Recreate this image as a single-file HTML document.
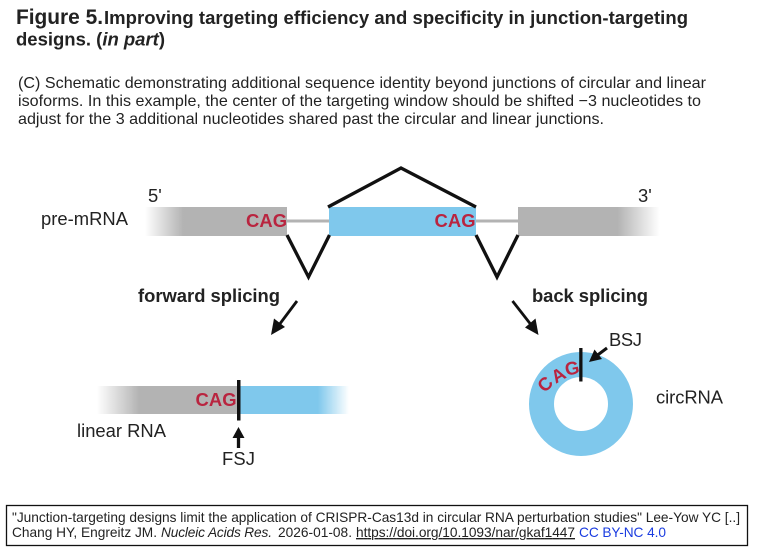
<!DOCTYPE html>
<html><head><meta charset="utf-8"><style>
html,body{margin:0;padding:0;background:#fff;width:761px;height:560px;overflow:hidden}
svg{display:block;filter:blur(.3px)}
text{font-family:"Liberation Sans",sans-serif;fill:#222}
.b{font-weight:700}
.c{font-weight:700;fill:#b9243f;font-size:18.4px}
.l{font-size:18.4px}
</style></head><body>
<svg width="761" height="560" viewBox="0 0 761 560" xmlns="http://www.w3.org/2000/svg">
<defs>
<linearGradient id="g1" x1="0" x2="1" y1="0" y2="0"><stop offset="0" stop-color="#b3b3b3" stop-opacity="0"/><stop offset=".27" stop-color="#b3b3b3"/><stop offset="1" stop-color="#b3b3b3"/></linearGradient>
<linearGradient id="g2" x1="0" x2="1" y1="0" y2="0"><stop offset="0" stop-color="#b3b3b3"/><stop offset=".7" stop-color="#b3b3b3"/><stop offset="1" stop-color="#b3b3b3" stop-opacity="0"/></linearGradient>
<linearGradient id="g3" x1="0" x2="1" y1="0" y2="0"><stop offset="0" stop-color="#b3b3b3" stop-opacity="0"/><stop offset=".3" stop-color="#b3b3b3"/><stop offset="1" stop-color="#b3b3b3"/></linearGradient>
<linearGradient id="g4" x1="0" x2="1" y1="0" y2="0"><stop offset="0" stop-color="#7fc8ec"/><stop offset=".72" stop-color="#7fc8ec"/><stop offset="1" stop-color="#7fc8ec" stop-opacity="0"/></linearGradient>
</defs>

<text class="b" x="16" y="24" font-size="20.9" textLength="87">Figure 5.</text>
<text class="b" x="104" y="24" font-size="18.5" textLength="584">Improving targeting efficiency and specificity in junction-targeting</text>
<text class="b" x="16" y="45.500" font-size="18.5" textLength="149">designs. (<tspan font-style="italic">in part</tspan>)</text>

<text x="18" y="88" font-size="16.1" textLength="688">(C) Schematic demonstrating additional sequence identity beyond junctions of circular and linear</text>
<text x="18" y="106" font-size="16.1" textLength="683">isoforms. In this example, the center of the targeting window should be shifted −3 nucleotides to</text>
<text x="18" y="124" font-size="16.1" textLength="586">adjust for the 3 additional nucleotides shared past the circular and linear junctions.</text>

<!-- pre-mRNA -->
<rect x="287" y="219.500" width="42" height="3" fill="#b3b3b3"/>
<rect x="476" y="219.500" width="42" height="3" fill="#b3b3b3"/>
<rect x="145" y="207" width="142" height="29" fill="url(#g1)"/>
<rect x="329" y="207" width="147" height="29" fill="#7fc8ec"/>
<rect x="518" y="207" width="142" height="29" fill="url(#g2)"/>
<g fill="none" stroke="#111" stroke-width="3.300">
<path d="M287 235L308.500 277L329.500 235"/>
<path d="M476 235L497 277L518 235"/>
<path d="M328 207L401 168L476 207"/>
</g>
<text class="l" x="41" y="225" textLength="87">pre-mRNA</text>
<text class="l" x="148" y="202">5'</text>
<text class="l" x="638" y="202">3'</text>
<text class="c" x="246" y="227" textLength="41">CAG</text>
<text class="c" x="434.500" y="227" textLength="41">CAG</text>
<text class="b" x="138" y="302" font-size="18.4" textLength="142">forward splicing</text>
<text class="b" x="532" y="302" font-size="18.4" textLength="116">back splicing</text>

<!-- arrows -->
<path d="M297 301L279 325" stroke="#111" stroke-width="2.800" fill="none"/>
<path d="M271 335L274 318.500L285 327Z" fill="#111"/>
<path d="M512.500 301L532 326" stroke="#111" stroke-width="2.800" fill="none"/>
<path d="M538.500 335L525 327.500L535.500 318.500Z" fill="#111"/>

<!-- linear RNA -->
<rect x="97" y="386" width="141" height="28" fill="url(#g3)"/>
<rect x="238" y="386" width="111" height="28" fill="url(#g4)"/>
<rect x="237" y="380" width="3.500" height="40.500" fill="#111"/>
<text class="c" x="195.500" y="406" textLength="41">CAG</text>
<text class="l" x="77" y="437" textLength="89">linear RNA</text>
<path d="M238.500 448V434" stroke="#111" stroke-width="3.300" fill="none"/>
<path d="M238.500 427L244.500 438H232.500Z" fill="#111"/>
<text class="l" x="222" y="465" textLength="33">FSJ</text>

<!-- circRNA -->
<circle cx="581" cy="404" r="39.500" fill="none" stroke="#7fc8ec" stroke-width="25"/>
<rect x="579.200" y="348" width="3.300" height="33.500" fill="#111"/>
<text class="c" transform="translate(549.600 388.600) rotate(-45)" text-anchor="middle">C</text>
<text class="c" transform="translate(561.500 380.600) rotate(-30)" text-anchor="middle">A</text>
<text class="c" transform="translate(573.400 374.400) rotate(-12)" text-anchor="middle">G</text>
<path d="M607 348L595 357" stroke="#111" stroke-width="3" fill="none"/>
<path d="M589 362L594.500 349.500L602 359Z" fill="#111"/>
<text class="l" x="609" y="346" textLength="33">BSJ</text>
<text class="l" x="656" y="403.500" textLength="67">circRNA</text>

<!-- citation -->
<rect x="6.500" y="505.500" width="741" height="40" fill="none" stroke="#111" stroke-width="1.300"/>
<text x="12" y="522" font-size="13.7" fill="#111" textLength="728">"Junction-targeting designs limit the application of CRISPR-Cas13d in circular RNA perturbation studies" Lee-Yow YC [..]</text>
<text x="12" y="537" font-size="13.7" textLength="145">Chang HY, Engreitz JM.</text>
<text x="161" y="537" font-size="13.7" font-style="italic" textLength="111">Nucleic Acids Res.</text>
<text x="278" y="537" font-size="13.7" textLength="74">2026-01-08.</text>
<text x="356" y="537" font-size="13.7" text-decoration="underline" textLength="219">https://doi.org/10.1093/nar/gkaf1447</text>
<text x="579" y="537" font-size="13.7" style="fill:#1a3ce0" textLength="87">CC BY-NC 4.0</text>
</svg>
</body></html>
